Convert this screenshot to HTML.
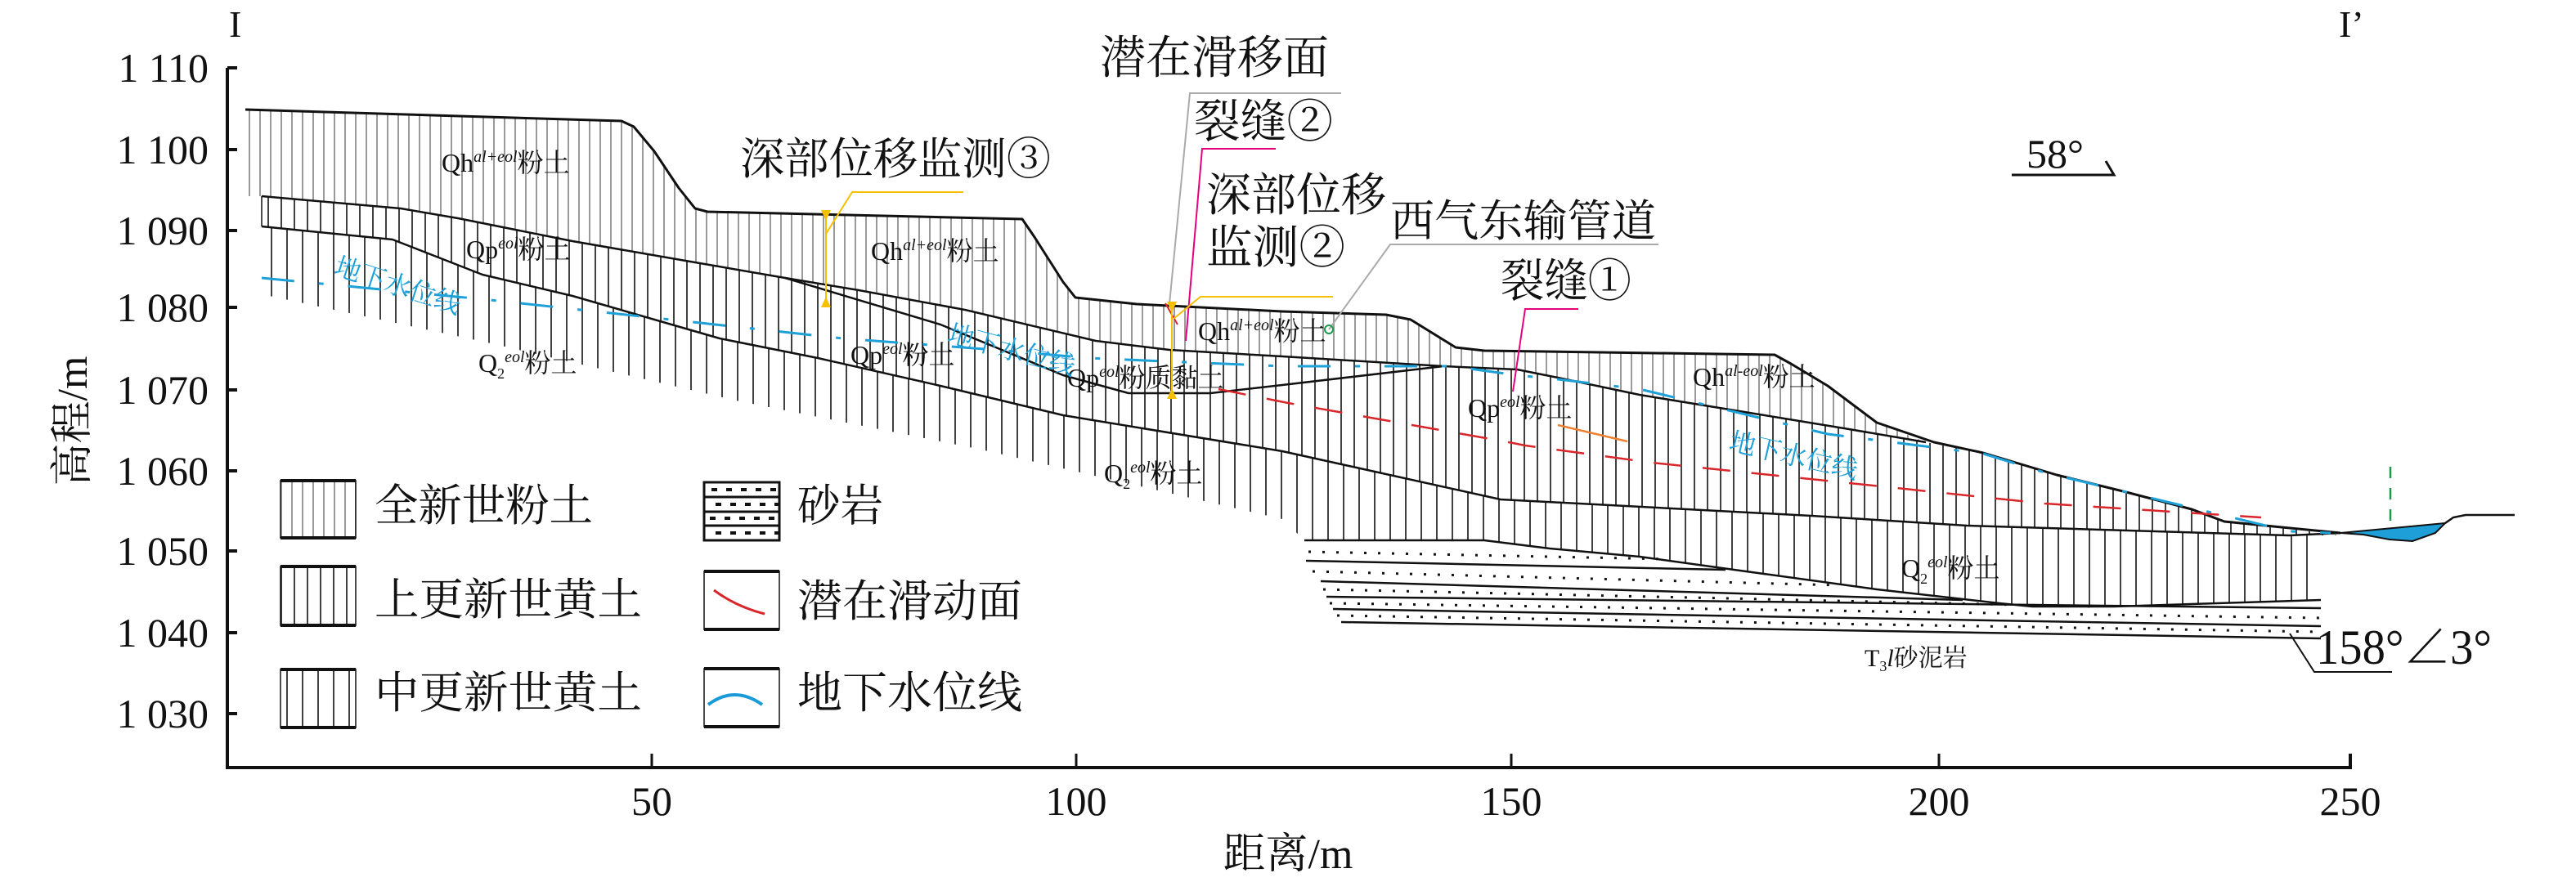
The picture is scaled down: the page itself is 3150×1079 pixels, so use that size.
<!DOCTYPE html>
<html><head><meta charset="utf-8"><style>
html,body{margin:0;padding:0;background:#fff;}
svg{display:block;}
text{font-family:"Liberation Serif","Noto Serif CJK SC",serif;fill:#111;}
</style></head><body>
<svg width="3150" height="1079" viewBox="0 0 3150 1079" xmlns="http://www.w3.org/2000/svg">
<defs>
<pattern id="hg" patternUnits="userSpaceOnUse" width="13" height="20"><line x1="6" y1="0" x2="6" y2="20" stroke="#9a9a9a" stroke-width="2"/></pattern>
<pattern id="hb" patternUnits="userSpaceOnUse" width="16" height="20"><line x1="8" y1="0" x2="8" y2="20" stroke="#111" stroke-width="1.6"/></pattern>
<pattern id="hc" patternUnits="userSpaceOnUse" width="19" height="20"><line x1="9" y1="0" x2="9" y2="20" stroke="#111" stroke-width="1.6"/></pattern>
</defs>

<polygon fill="url(#hc)" points="320,277 480,293 590,336 700,362 880,414 1000,438 1150,472 1300,508 1568,552 1835,611 2215,631 2405,643 2800,655 2838,655 2838,734 2585,742 2485,742 2445,738 2295,721 2135,699 2005,681 1895,671 1815,661 1595,661 1568,635 1200,550 900,490 600,420 320,360"/>
<polygon fill="url(#hb)" points="320,240 490,255 560,267 700,295 850,321 960,340 1050,355 1180,379 1340,417 1430,428 1568,436 1765,448 1855,452 1905,462 2005,483 2255,524 2355,541 2425,554 2515,581 2600,602 2680,623 2720,638 2760,642 2790,645 2860,655 2800,655 2405,643 2215,631 1835,611 1568,552 1300,508 1150,472 1000,438 880,414 700,362 590,336 480,293 320,277"/>
<polygon fill="url(#hg)" points="300,134 760,148 775,155 800,185 830,230 850,255 865,259 1250,268 1265,290 1300,345 1315,364 1390,372 1568,381 1695,385 1725,391 1780,425 1815,429 2170,434 2190,445 2235,472 2295,517 2355,541 2255,524 2005,483 1905,462 1855,452 1765,448 1568,436 1430,428 1340,417 1180,379 1050,355 960,340 850,321 700,295 560,267 490,255 320,240 300,240"/>

<g fill="none" stroke="#111" stroke-linejoin="round">
<polyline stroke-width="3" points="300,134 760,148 775,155 800,185 830,230 850,255 865,259 1250,268 1265,290 1300,345 1315,364 1390,372 1568,381 1695,385 1725,391 1780,425 1815,429 2170,434 2190,445 2235,472 2295,517 2365,541 2425,554 2515,581 2600,602 2680,623 2720,638 2760,642 2790,645 2862,652"/>
<polyline stroke-width="2.5" points="320,240 490,255 560,267 700,295 850,321 960,340 1050,355 1180,379 1340,417 1430,428 1568,436 1765,448 1855,452 1905,462 2005,483 2255,524 2355,541"/>
<polyline stroke-width="2.5" points="960,340 1150,397 1300,459 1380,481 1480,481 1568,471 1765,448"/>
<polyline stroke-width="2.5" points="320,277 480,293 590,336 700,362 880,414 1000,438 1150,472 1300,508 1568,552 1835,611 2215,631 2405,643 2800,655 2862,652"/>
<polyline stroke-width="2.5" points="1595,661 1815,661 1895,671 2005,681 2135,699 2295,721 2445,738 2485,742 2585,742 2838,734"/>
<line x1="320" y1="240" x2="320" y2="277" stroke-width="1.5"/>
<polyline stroke-width="2.5" points="1597,686 2110,697"/>
<polyline stroke-width="2.5" points="1615,711 2400,734"/>
<polyline stroke-width="2.5" points="1622,730 2838,744"/>
<polyline stroke-width="2.5" points="1630,745 2838,766"/>
<polyline stroke-width="2.5" points="1640,761 2838,781"/>
</g>
<g fill="none" stroke="#111" stroke-width="3" stroke-dasharray="3 14">
<line x1="1600" y1="675" x2="2040" y2="684"/>
<line x1="1605" y1="699" x2="2250" y2="716"/>
<line x1="1618" y1="721" x2="2560" y2="742"/>
<line x1="1626" y1="738" x2="2838" y2="756"/>
<line x1="1635" y1="753" x2="2838" y2="773"/>
</g>

<polygon fill="#1e9fd8" stroke="#111" stroke-width="2" points="2862,652 2990,640 2978,652 2950,662 2922,660 2890,654"/>
<polyline fill="none" stroke="#111" stroke-width="2.5" points="2990,640 3000,633 3015,630 3075,630"/>
<line x1="2923" y1="571" x2="2923" y2="640" stroke="#1a9a4a" stroke-width="2.5" stroke-dasharray="14 12"/>

<polyline fill="none" stroke="#1ea0d8" stroke-width="3" stroke-dasharray="40 30 6 30" points="320,340 600,367 820,391 1030,414 1230,429 1330,438 1568,448 1775,448 1855,459 1905,464 2005,476 2105,500 2235,531 2425,555 2500,578 2600,602 2700,626 2800,650 2850,652"/>
<polyline fill="none" stroke="#d9262b" stroke-width="2.5" stroke-dasharray="34 26" points="1490,476 1550,488 1575,493 1845,541 1865,545 2020,566 2300,595 2500,616 2765,633"/>
<line x1="1425" y1="371" x2="1440" y2="397" stroke="#d9262b" stroke-width="2"/>
<line x1="1905" y1="520" x2="1990" y2="540" stroke="#f08030" stroke-width="2.5"/>

<g fill="none" stroke-width="2">
<polyline stroke="#aaa" points="1640,114 1455,114 1430,372"/>
<polyline stroke="#e6007e" points="1560,182 1470,182 1450,417"/>
<polyline stroke="#e6007e" points="1930,378 1865,378 1850,479"/>
<polyline stroke="#aaa" points="2028,299 1700,299 1625,403"/>
<polyline stroke="#f5c000" points="1178,235 1042,235 1010,286"/>
<line stroke="#f5c000" x1="1010" y1="257" x2="1010" y2="376"/>
<polyline stroke="#f5c000" points="1630,363 1468,363 1435,390"/>
<line stroke="#f5c000" x1="1433" y1="369" x2="1433" y2="488"/>
</g>
<g fill="#f5c000">
<polygon points="1004,257 1016,257 1010,270"/><polygon points="1004,376 1016,376 1010,363"/>
<polygon points="1427,369 1439,369 1433,382"/><polygon points="1427,488 1439,488 1433,475"/>
</g>
<circle cx="1625" cy="403" r="5" fill="none" stroke="#1a9a4a" stroke-width="2"/>
<polyline fill="none" stroke="#111" stroke-width="3" points="2460,214 2585,214 2575,197"/>
<polyline fill="none" stroke="#111" stroke-width="2" points="2800,775 2830,822 2925,822"/>

<g stroke="#111" stroke-width="4" fill="none">
<polyline points="278,83 278,939 2874,939 2874,922"/>
<line x1="278" y1="83" x2="290" y2="83"/><line x1="278" y1="183" x2="290" y2="183"/>
<line x1="278" y1="282" x2="290" y2="282"/><line x1="278" y1="376" x2="290" y2="376"/>
<line x1="278" y1="477" x2="290" y2="477"/><line x1="278" y1="576" x2="290" y2="576"/>
<line x1="278" y1="674" x2="290" y2="674"/><line x1="278" y1="774" x2="290" y2="774"/>
<line x1="278" y1="873" x2="290" y2="873"/>
<line x1="797" y1="922" x2="797" y2="939" stroke-width="3"/><line x1="1316" y1="922" x2="1316" y2="939" stroke-width="3"/>
<line x1="1848" y1="922" x2="1848" y2="939" stroke-width="3"/><line x1="2371" y1="922" x2="2371" y2="939" stroke-width="3"/>
</g>
<g font-size="50" text-anchor="end">
<text x="255" y="100">1 110</text><text x="255" y="200">1 100</text><text x="255" y="299">1 090</text>
<text x="255" y="393">1 080</text><text x="255" y="494">1 070</text><text x="255" y="593">1 060</text>
<text x="255" y="691">1 050</text><text x="255" y="791">1 040</text><text x="255" y="890">1 030</text>
</g>
<g font-size="50" text-anchor="middle">
<text x="797" y="997">50</text><text x="1316" y="997">100</text><text x="1848" y="997">150</text>
<text x="2371" y="997">200</text><text x="2874" y="997">250</text>
<text x="1575" y="1062" font-size="52">距离/m</text>
<text transform="translate(106,515) rotate(-90)" font-size="52">高程/m</text>
</g>
<text x="280" y="45" font-size="46">I</text>
<text x="2860" y="45" font-size="46">I’</text>

<text x="905" y="213" font-size="54" textLength="380" lengthAdjust="spacingAndGlyphs">深部位移监测③</text>
<text x="1345" y="90" font-size="56" textLength="280" lengthAdjust="spacingAndGlyphs">潜在滑移面</text>
<text x="1460" y="168" font-size="56" textLength="170" lengthAdjust="spacingAndGlyphs">裂缝②</text>
<text x="1475" y="258" font-size="56" textLength="220" lengthAdjust="spacingAndGlyphs">深部位移</text>
<text x="1475" y="322" font-size="56" textLength="170" lengthAdjust="spacingAndGlyphs">监测②</text>
<text x="1700" y="289" font-size="54" textLength="325" lengthAdjust="spacingAndGlyphs">西气东输管道</text>
<text x="1835" y="363" font-size="56" textLength="160" lengthAdjust="spacingAndGlyphs">裂缝①</text>
<text x="2478" y="205" font-size="50">58°</text>
<text x="2832" y="812" font-size="60" textLength="215" lengthAdjust="spacingAndGlyphs">158°∠3°</text>
<text x="2280" y="815" font-size="30">T<tspan font-size="18" dy="6">3</tspan><tspan font-style="italic" dy="-6">l</tspan>砂泥岩</text>

<g font-size="32">
<text x="540" y="210">Qh<tspan font-size="20" font-style="italic" dy="-12">al+eol</tspan><tspan dy="12">粉土</tspan></text>
<text x="570" y="316">Qp<tspan font-size="20" font-style="italic" dy="-12">eol</tspan><tspan dy="12">粉土</tspan></text>
<text x="1065" y="318">Qh<tspan font-size="20" font-style="italic" dy="-12">al+eol</tspan><tspan dy="12">粉土</tspan></text>
<text x="585" y="455">Q<tspan font-size="18" dy="8">2</tspan><tspan font-size="20" font-style="italic" dy="-20">eol</tspan><tspan dy="12">粉土</tspan></text>
<text x="1040" y="445">Qp<tspan font-size="20" font-style="italic" dy="-12">eol</tspan><tspan dy="12">粉土</tspan></text>
<text x="1305" y="473">Qp<tspan font-size="20" font-style="italic" dy="-12">eol</tspan><tspan dy="12">粉质黏土</tspan></text>
<text x="1465" y="416">Qh<tspan font-size="20" font-style="italic" dy="-12">al+eol</tspan><tspan dy="12">粉土</tspan></text>
<text x="2070" y="472">Qh<tspan font-size="20" font-style="italic" dy="-12">al-eol</tspan><tspan dy="12">粉土</tspan></text>
<text x="1795" y="510">Qp<tspan font-size="20" font-style="italic" dy="-12">eol</tspan><tspan dy="12">粉土</tspan></text>
<text x="1350" y="590">Q<tspan font-size="18" dy="8">2</tspan><tspan font-size="20" font-style="italic" dy="-20">eol</tspan><tspan dy="12">粉土</tspan></text>
<text x="2325" y="706">Q<tspan font-size="18" dy="8">2</tspan><tspan font-size="20" font-style="italic" dy="-20">eol</tspan><tspan dy="12">粉土</tspan></text>
</g>
<g font-size="32">
<text transform="translate(407,335) rotate(18)" style="fill:#1ea0d8">地下水位线</text>
<text transform="translate(1157,418) rotate(15)" style="fill:#1ea0d8">地下水位线</text>
<text transform="translate(2113,550) rotate(13)" style="fill:#1ea0d8">地下水位线</text>
</g>

<rect x="343" y="588" width="92" height="70" fill="url(#hg)"/>
<rect x="343" y="693" width="92" height="72" fill="url(#hb)"/>
<rect x="343" y="819" width="92" height="71" fill="url(#hc)"/>
<g stroke="#111" fill="none">
<rect x="343" y="588" width="92" height="70" stroke-width="1.5"/>
<line x1="343" y1="588" x2="435" y2="588" stroke-width="4"/><line x1="343" y1="658" x2="435" y2="658" stroke-width="4"/>
<rect x="343" y="693" width="92" height="72" stroke-width="1.5"/>
<line x1="343" y1="693" x2="435" y2="693" stroke-width="4"/><line x1="343" y1="765" x2="435" y2="765" stroke-width="4"/>
<rect x="343" y="819" width="92" height="71" stroke-width="1.5"/>
<line x1="343" y1="819" x2="435" y2="819" stroke-width="4"/><line x1="343" y1="890" x2="435" y2="890" stroke-width="4"/>
<rect x="861" y="590" width="92" height="71" stroke-width="3"/>
<line x1="861" y1="608" x2="953" y2="608" stroke-width="3"/><line x1="861" y1="626" x2="953" y2="626" stroke-width="3"/><line x1="861" y1="643" x2="953" y2="643" stroke-width="3"/>
<g stroke-width="4" stroke-dasharray="7 11">
<line x1="870" y1="599" x2="953" y2="599"/><line x1="875" y1="617" x2="953" y2="617"/>
<line x1="868" y1="634" x2="953" y2="634"/><line x1="875" y1="652" x2="953" y2="652"/>
</g>
<rect x="861" y="699" width="92" height="71" stroke-width="1.5"/>
<line x1="861" y1="699" x2="953" y2="699" stroke-width="4"/><line x1="861" y1="770" x2="953" y2="770" stroke-width="4"/>
<rect x="861" y="818" width="92" height="71" stroke-width="1.5"/>
<line x1="861" y1="818" x2="953" y2="818" stroke-width="4"/><line x1="861" y1="889" x2="953" y2="889" stroke-width="4"/>
</g>
<path d="M873,722 Q900,742 935,751" fill="none" stroke="#d9262b" stroke-width="3"/>
<path d="M866,862 Q898,838 932,862" fill="none" stroke="#1a9ad6" stroke-width="4"/>
<g font-size="54">
<text x="458" y="637" textLength="267" lengthAdjust="spacingAndGlyphs">全新世粉土</text>
<text x="458" y="752" textLength="327" lengthAdjust="spacingAndGlyphs">上更新世黄土</text>
<text x="458" y="866" textLength="327" lengthAdjust="spacingAndGlyphs">中更新世黄土</text>
<text x="975" y="637" textLength="105" lengthAdjust="spacingAndGlyphs">砂岩</text>
<text x="975" y="754" textLength="275" lengthAdjust="spacingAndGlyphs">潜在滑动面</text>
<text x="975" y="866" textLength="275" lengthAdjust="spacingAndGlyphs">地下水位线</text>
</g>
</svg>
</body></html>
